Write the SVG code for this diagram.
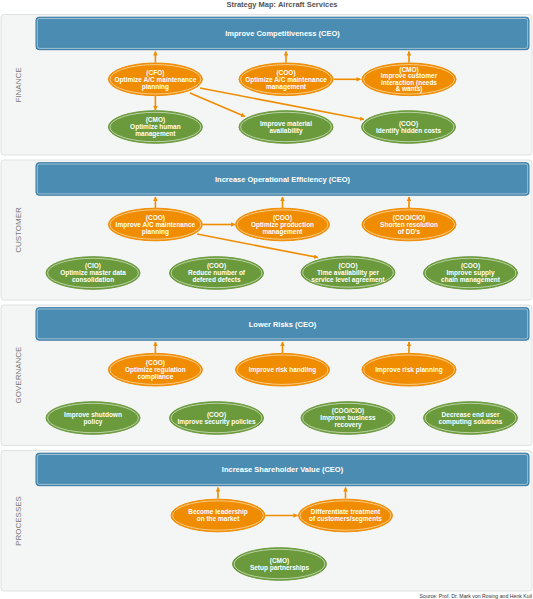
<svg xmlns="http://www.w3.org/2000/svg" width="533" height="599" viewBox="0 0 533 599">
<defs>
<style>
.lane{fill:#f4f6f6;stroke:#dfe2e2;stroke-width:1}
.bar{fill:#4b8db2;stroke:#3a79a3;stroke-width:1}
.barin{fill:none;stroke:#ffffff;stroke-width:0.6;opacity:0.75}
.bt{font-family:"Liberation Sans",Arial,sans-serif;font-size:7.5px;font-weight:bold;fill:#ffffff;text-anchor:middle}
.lab{font-family:"Liberation Sans",Arial,sans-serif;font-size:8px;fill:#777777;text-anchor:middle}
.o{fill:#f08c00;stroke:#f08c00;stroke-width:1}
.g{fill:#6a9a3b;stroke:#6a9a3b;stroke-width:1}
.in{fill:none;stroke:#ffffff;stroke-width:0.6;opacity:0.9}
.t{font-family:"Liberation Sans",Arial,sans-serif;font-size:6.5px;font-weight:bold;fill:#ffffff;text-anchor:middle}
.c line{stroke:#f08c00;stroke-width:1.6;fill:none;marker-end:url(#ah)}
</style>
<marker id="ah" viewBox="0 0 10 10" refX="9" refY="5" markerWidth="4.5" markerHeight="4.5" markerUnits="userSpaceOnUse" orient="auto">
<path d="M0,0 L10,5 L0,10 z" fill="#f08c00"/>
</marker>
</defs>
<rect width="533" height="599" fill="#ffffff"/>
<text x="282" y="6.8" style="font-family:'Liberation Sans',Arial,sans-serif;font-size:7.5px;font-weight:bold;fill:#555555" text-anchor="middle">Strategy Map: Aircraft Services</text>

<g id="lanes">
<rect class="lane" x="1" y="14.5" width="531" height="140.5" rx="3"/>
<rect class="lane" x="1" y="160" width="531" height="140" rx="3"/>
<rect class="lane" x="1" y="305" width="531" height="140.5" rx="3"/>
<rect class="lane" x="1" y="450.5" width="531" height="140.5" rx="3"/>
<text class="lab" transform="translate(21,85) rotate(-90)">FINANCE</text>
<text class="lab" transform="translate(21,230) rotate(-90)">CUSTOMER</text>
<text class="lab" transform="translate(21,375) rotate(-90)">GOVERNANCE</text>
<text class="lab" transform="translate(21,521) rotate(-90)">PROCESSES</text>
</g>

<g id="bar1"><rect class="bar" x="36" y="17.2" width="493" height="32.5" rx="3"/><rect class="barin" x="37.3" y="18.5" width="490.4" height="29.9" rx="2.3"/><text class="bt" x="282.5" y="36.3">Improve Competitiveness (CEO)</text></g>
<g id="bar2"><rect class="bar" x="36" y="162.7" width="493" height="32.5" rx="3"/><rect class="barin" x="37.3" y="164" width="490.4" height="29.9" rx="2.3"/><text class="bt" x="282.5" y="181.8">Increase Operational Efficiency (CEO)</text></g>
<g id="bar3"><rect class="bar" x="36" y="307.7" width="493" height="32.5" rx="3"/><rect class="barin" x="37.3" y="309" width="490.4" height="29.9" rx="2.3"/><text class="bt" x="282.5" y="326.8">Lower Risks (CEO)</text></g>
<g id="bar4"><rect class="bar" x="36" y="453.2" width="493" height="32.5" rx="3"/><rect class="barin" x="37.3" y="454.5" width="490.4" height="29.9" rx="2.3"/><text class="bt" x="282.5" y="472.3">Increase Shareholder Value (CEO)</text></g>

<g class="c" id="connectors">
<line x1="155.4" y1="62.5" x2="155.4" y2="51.5"/>
<line x1="286" y1="62.5" x2="286" y2="51.5"/>
<line x1="409" y1="62.5" x2="409" y2="51.5"/>
<line x1="155.4" y1="96" x2="155.4" y2="110"/>
<line x1="333.5" y1="79.3" x2="360.5" y2="79.3"/>
<line x1="190" y1="93" x2="245" y2="116.5"/>
<line x1="200" y1="88" x2="364" y2="119.5"/>

<line x1="155.4" y1="208" x2="155.4" y2="197"/>
<line x1="282.5" y1="208" x2="282.5" y2="197"/>
<line x1="409" y1="208" x2="409" y2="197"/>
<line x1="203" y1="224.5" x2="235" y2="224.5"/>
<line x1="197" y1="234" x2="318" y2="257.5"/>

<line x1="155.4" y1="353" x2="155.4" y2="342"/>
<line x1="282.5" y1="353" x2="282.5" y2="342"/>
<line x1="409" y1="353" x2="409" y2="342"/>

<line x1="218" y1="498.5" x2="218" y2="487.5"/>
<line x1="345.5" y1="498.5" x2="345.5" y2="487.5"/>
<line x1="265.5" y1="515.5" x2="297.5" y2="515.5"/>
</g>

<!-- FINANCE -->
<g id="f_cfo"><ellipse class="o" cx="155.4" cy="79.3" rx="47" ry="16.3"/><ellipse class="in" cx="155.4" cy="79.3" rx="45.4" ry="14.7"/>
<text class="t" x="155.4" y="74.6">(CFO)</text><text class="t" x="155.4" y="81.6">Optimize A/C maintenance</text><text class="t" x="155.4" y="88.6">planning</text></g>
<g id="f_coo"><ellipse class="o" cx="286" cy="79.3" rx="47" ry="16.3"/><ellipse class="in" cx="286" cy="79.3" rx="45.4" ry="14.7"/>
<text class="t" x="286" y="74.6">(COO)</text><text class="t" x="286" y="81.6">Optimize A/C maintenance</text><text class="t" x="286" y="88.6">management</text></g>
<g id="f_cmo"><ellipse class="o" cx="409" cy="79.3" rx="47" ry="16.3"/><ellipse class="in" cx="409" cy="79.3" rx="45.4" ry="14.7"/>
<text class="t" x="409" y="71.9">(CMO)</text><text class="t" x="409" y="78.4">Improve customer</text><text class="t" x="409" y="84.9">interaction (needs</text><text class="t" x="409" y="91.4">&amp; wants)</text></g>
<g id="f_cmo2"><ellipse class="g" cx="155.4" cy="127" rx="47" ry="16.3"/><ellipse class="in" cx="155.4" cy="127" rx="45.4" ry="14.7"/>
<text class="t" x="155.4" y="122.3">(CMO)</text><text class="t" x="155.4" y="129.3">Optimize human</text><text class="t" x="155.4" y="136.3">management</text></g>
<g id="f_mat"><ellipse class="g" cx="286" cy="127" rx="47" ry="16.3"/><ellipse class="in" cx="286" cy="127" rx="45.4" ry="14.7"/>
<text class="t" x="286" y="125.8">Improve material</text><text class="t" x="286" y="132.8">availability</text></g>
<g id="f_hid"><ellipse class="g" cx="408.5" cy="127" rx="47" ry="16.3"/><ellipse class="in" cx="408.5" cy="127" rx="45.4" ry="14.7"/>
<text class="t" x="408.5" y="125.8">(COO)</text><text class="t" x="408.5" y="132.8">Identify hidden costs</text></g>

<!-- CUSTOMER -->
<g id="c_coo1"><ellipse class="o" cx="155.4" cy="224.5" rx="47" ry="16.3"/><ellipse class="in" cx="155.4" cy="224.5" rx="45.4" ry="14.7"/>
<text class="t" x="155.4" y="219.8">(COO)</text><text class="t" x="155.4" y="226.8">Improve A/C maintenance</text><text class="t" x="155.4" y="233.8">planning</text></g>
<g id="c_coo2"><ellipse class="o" cx="282.5" cy="224.5" rx="47" ry="16.3"/><ellipse class="in" cx="282.5" cy="224.5" rx="45.4" ry="14.7"/>
<text class="t" x="282.5" y="219.8">(COO)</text><text class="t" x="282.5" y="226.8">Optimize production</text><text class="t" x="282.5" y="233.8">management</text></g>
<g id="c_coocio"><ellipse class="o" cx="409" cy="224.5" rx="47" ry="16.3"/><ellipse class="in" cx="409" cy="224.5" rx="45.4" ry="14.7"/>
<text class="t" x="409" y="219.8">(COO/CIO)</text><text class="t" x="409" y="226.8">Shorten resolution</text><text class="t" x="409" y="233.8">of DD's</text></g>
<g id="c_cio"><ellipse class="g" cx="93" cy="273" rx="47" ry="16.3"/><ellipse class="in" cx="93" cy="273" rx="45.4" ry="14.7"/>
<text class="t" x="93" y="268.3">(CIO)</text><text class="t" x="93" y="275.3">Optimize master data</text><text class="t" x="93" y="282.3">consolidation</text></g>
<g id="c_red"><ellipse class="g" cx="216.5" cy="273" rx="47" ry="16.3"/><ellipse class="in" cx="216.5" cy="273" rx="45.4" ry="14.7"/>
<text class="t" x="216.5" y="268.3">(COO)</text><text class="t" x="216.5" y="275.3">Reduce number of</text><text class="t" x="216.5" y="282.3">defered defects</text></g>
<g id="c_time"><ellipse class="g" cx="348" cy="272.5" rx="47" ry="16.3"/><ellipse class="in" cx="348" cy="272.5" rx="45.4" ry="14.7"/>
<text class="t" x="348" y="267.8">(COO)</text><text class="t" x="348" y="274.8">Time availability per</text><text class="t" x="348" y="281.8">service level agreement</text></g>
<g id="c_sup"><ellipse class="g" cx="470.5" cy="273" rx="47" ry="16.3"/><ellipse class="in" cx="470.5" cy="273" rx="45.4" ry="14.7"/>
<text class="t" x="470.5" y="268.3">(COO)</text><text class="t" x="470.5" y="275.3">Improve supply</text><text class="t" x="470.5" y="282.3">chain management</text></g>

<!-- GOVERNANCE -->
<g id="g_reg"><ellipse class="o" cx="155.4" cy="369.7" rx="47" ry="16.3"/><ellipse class="in" cx="155.4" cy="369.7" rx="45.4" ry="14.7"/>
<text class="t" x="155.4" y="365">(COO)</text><text class="t" x="155.4" y="372">Optimize regulation</text><text class="t" x="155.4" y="379">compliance</text></g>
<g id="g_rh"><ellipse class="o" cx="282.5" cy="369.7" rx="47" ry="16.3"/><ellipse class="in" cx="282.5" cy="369.7" rx="45.4" ry="14.7"/>
<text class="t" x="282.5" y="372">Improve risk handling</text></g>
<g id="g_rp"><ellipse class="o" cx="409" cy="369.7" rx="47" ry="16.3"/><ellipse class="in" cx="409" cy="369.7" rx="45.4" ry="14.7"/>
<text class="t" x="409" y="372">Improve risk planning</text></g>
<g id="g_shut"><ellipse class="g" cx="93" cy="418" rx="47" ry="16.3"/><ellipse class="in" cx="93" cy="418" rx="45.4" ry="14.7"/>
<text class="t" x="93" y="416.8">Improve shutdown</text><text class="t" x="93" y="423.8">policy</text></g>
<g id="g_sec"><ellipse class="g" cx="216.5" cy="418" rx="47" ry="16.3"/><ellipse class="in" cx="216.5" cy="418" rx="45.4" ry="14.7"/>
<text class="t" x="216.5" y="416.8">(COO)</text><text class="t" x="216.5" y="423.8">Improve security policies</text></g>
<g id="g_rec"><ellipse class="g" cx="348" cy="418" rx="47" ry="16.3"/><ellipse class="in" cx="348" cy="418" rx="45.4" ry="14.7"/>
<text class="t" x="348" y="413.3">(COO/CIO)</text><text class="t" x="348" y="420.3">Improve business</text><text class="t" x="348" y="427.3">recovery</text></g>
<g id="g_dec"><ellipse class="g" cx="470.5" cy="418" rx="47" ry="16.3"/><ellipse class="in" cx="470.5" cy="418" rx="45.4" ry="14.7"/>
<text class="t" x="470.5" y="416.8">Decrease end user</text><text class="t" x="470.5" y="423.8">computing solutions</text></g>

<!-- PROCESSES -->
<g id="p_lead"><ellipse class="o" cx="218" cy="515.5" rx="47" ry="16.3"/><ellipse class="in" cx="218" cy="515.5" rx="45.4" ry="14.7"/>
<text class="t" x="218" y="514.3">Become leadership</text><text class="t" x="218" y="521.3">on the market</text></g>
<g id="p_diff"><ellipse class="o" cx="345.5" cy="515.5" rx="47" ry="16.3"/><ellipse class="in" cx="345.5" cy="515.5" rx="45.4" ry="14.7"/>
<text class="t" x="345.5" y="514.3">Differentiate treatment</text><text class="t" x="345.5" y="521.3">of customers/segments</text></g>
<g id="p_part"><ellipse class="g" cx="279.5" cy="564" rx="47" ry="16.3"/><ellipse class="in" cx="279.5" cy="564" rx="45.4" ry="14.7"/>
<text class="t" x="279.5" y="562.8">(CMO)</text><text class="t" x="279.5" y="569.8">Setup partnerships</text></g>

<text x="532" y="597.5" style="font-family:'Liberation Sans',Arial,sans-serif;font-size:5.2px;fill:#333333" text-anchor="end">Source: Prof. Dr. Mark von Rosing and Henk Kuil</text>
</svg>
